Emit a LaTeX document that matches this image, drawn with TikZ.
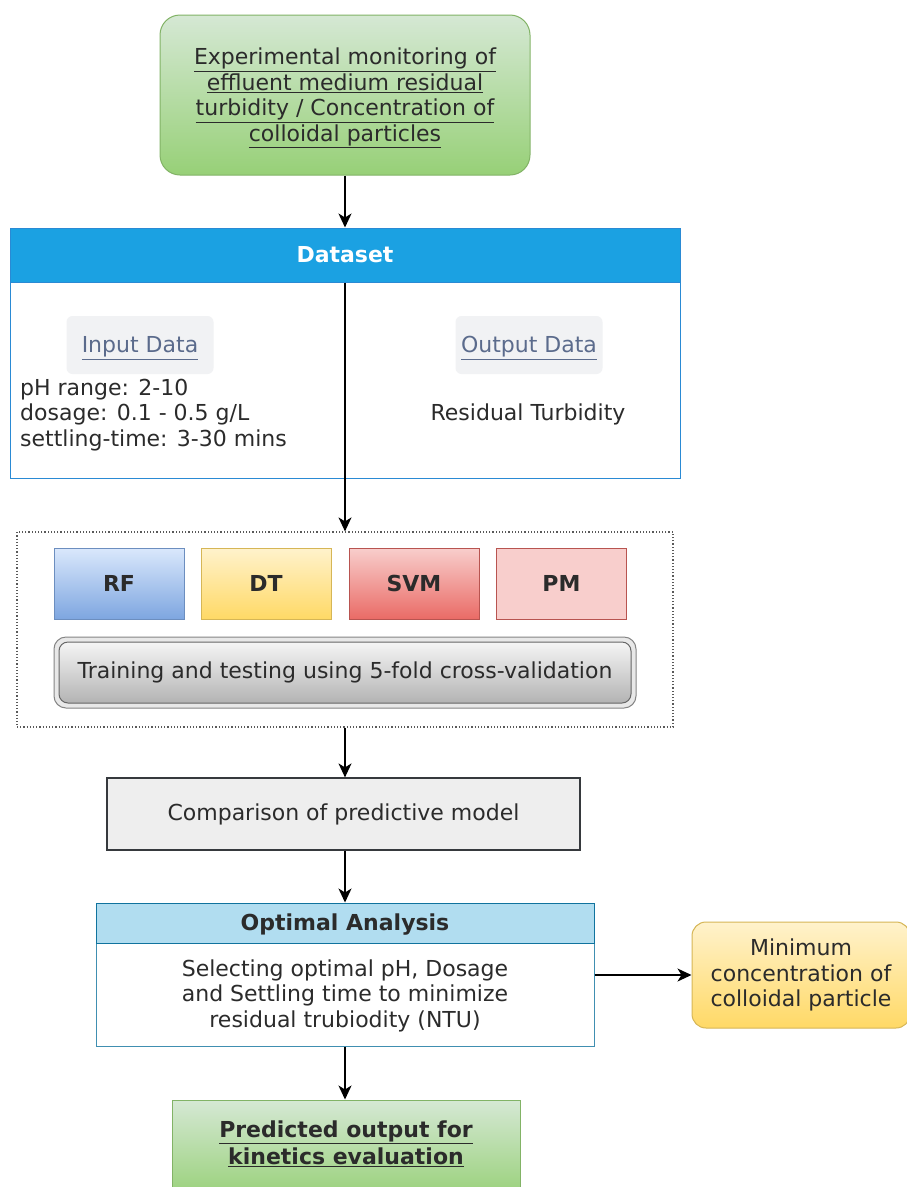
\documentclass[tikz,border=0pt]{standalone}
\usepackage{fontspec}
\setmainfont{DejaVu Sans}
\usetikzlibrary{arrows.meta,shapes.misc}
\definecolor{txt}{HTML}{2B2B2B}
\definecolor{grnT}{HTML}{D5E8D4}
\definecolor{grnB}{HTML}{97D077}
\definecolor{grnD}{HTML}{82B366}
\definecolor{dsblue}{HTML}{1BA1E2}
\definecolor{dsline}{HTML}{2A8AD4}
\definecolor{lbl}{HTML}{5B6B8C}
\definecolor{lblbg}{HTML}{F1F2F4}
\definecolor{bluT}{HTML}{DAE8FC}
\definecolor{bluB}{HTML}{7EA6E0}
\definecolor{bluD}{HTML}{6C8EBF}
\definecolor{yelT}{HTML}{FFF2CC}
\definecolor{yelB}{HTML}{FFD966}
\definecolor{yelD}{HTML}{D6B656}
\definecolor{redT}{HTML}{F8CECC}
\definecolor{redB}{HTML}{EA6B66}
\definecolor{redD}{HTML}{B85450}
\definecolor{gryT}{HTML}{F5F5F5}
\definecolor{gryB}{HTML}{B3B3B3}
\definecolor{gryD}{HTML}{666666}
\definecolor{cmpF}{HTML}{EEEEEE}
\definecolor{cmpD}{HTML}{36393D}
\definecolor{optF}{HTML}{B1DDF0}
\definecolor{optD}{HTML}{10739E}
\tikzset{
  every node/.style={font=\fontsize{22}{25.5}\selectfont, text=txt, inner sep=0pt},
  arr/.style={-{Stealth[length=14pt,width=13pt,inset=4pt]}, line width=1.5pt, black},
  modelbox/.style={rectangle, minimum width=130pt, minimum height=71pt, line width=1pt, font=\fontsize{22}{25}\selectfont\bfseries},
  lblbox/.style={rectangle, rounded corners=6pt, fill=lblbg, minimum width=147pt, minimum height=58pt, text=lbl},
}
\begin{document}
\begin{tikzpicture}[x=1pt,y=-1pt]
\clip (0,0) rectangle (907,1187);
\fill[white] (0,0) rectangle (907,1187);

% top box
\node[rectangle, rounded corners=20pt, top color=grnT, bottom color=grnB, draw=grnD, line width=1pt,
  minimum width=370pt, minimum height=160pt] (top) at (345,95) {};
\node[align=center] (toptxt) at (345,98)
  {\underline{Experimental monitoring of}\\ \underline{effluent medium residual}\\ \underline{turbidity / Concentration of}\\ \underline{colloidal particles}};

% dataset
\node[rectangle, fill=white, draw=dsline, line width=1pt, minimum width=670pt, minimum height=196pt] (dsbody) at (345,380) {};
\node[rectangle, fill=dsblue, draw=dsline, line width=1pt, minimum width=670pt, minimum height=54pt,
  text=white, font=\fontsize{22}{25}\selectfont\bfseries] (dshead) at (345,255) {Dataset};
\node[lblbox] (inlbl) at (140,345) {};
\node[text=lbl] (inlbltxt) at (140,348) {\underline{Input Data}};
\node[lblbox] (outlbl) at (529,345) {};
\node[text=lbl] (outlbltxt) at (529,348) {\underline{Output Data}};
\node[anchor=west, align=left] (intext) at (20,415) {pH range: 2-10\\dosage: 0.1 - 0.5 g/L\\settling-time: 3-30 mins};
\node (outtext) at (528,414) {Residual Turbidity};

% models
\node[rectangle, draw=black!65, dotted, line width=1.2pt, minimum width=656pt, minimum height=195pt] (models) at (345,629.5) {};
\node[modelbox, top color=bluT, bottom color=bluB, draw=bluD] (rf) at (119,583.5) {RF};
\node[modelbox, top color=yelT, bottom color=yelB, draw=yelD] (dt) at (266,583.5) {DT};
\node[modelbox, top color=redT, bottom color=redB, draw=redD] (svm) at (414,583.5) {SVM};
\node[modelbox, fill=redT, draw=redD] (pm) at (561.5,583.5) {PM};
\draw[draw=gryD!80, fill=gryT!80!gryB, line width=1pt, rounded corners=12pt] (54,637) rectangle (636,708);
\node[rectangle, rounded corners=9pt, top color=gryT, bottom color=gryB, draw=gryD, line width=1pt,
  minimum width=572pt, minimum height=61pt] (train) at (345,672.5) {Training and testing using 5-fold cross-validation};

% comparison
\node[rectangle, fill=cmpF, draw=cmpD, line width=1.2pt, minimum width=473pt, minimum height=72pt] (cmp) at (343.5,814) {Comparison of predictive model};

% optimal analysis
\node[rectangle, fill=white, draw=optD!80, line width=1pt, minimum width=498pt, minimum height=103pt] (optbody) at (345,994.5) {};
\node[align=center] (optbodytxt) at (345,995.5)
  {Selecting optimal pH, Dosage\\and Settling time to minimize\\residual trubiodity (NTU)};
\node[rectangle, fill=optF, draw=optD, line width=1pt, minimum width=498pt, minimum height=40pt] (opthead) at (345,923) {};
\node[font=\fontsize{22}{25}\selectfont\bfseries] (optheadtxt) at (345,925) {Optimal Analysis};

% minimum box
\node[rectangle, rounded corners=14pt, top color=yelT, bottom color=yelB, draw=yelD, line width=1pt,
  minimum width=218pt, minimum height=106pt, align=center] (minb) at (801,975)
  {Minimum\\concentration of\\colloidal particle};

% predicted
\node[rectangle, top color=grnT, bottom color=grnB, draw=grnD, line width=1pt, minimum width=348pt, minimum height=100pt] (pred) at (346,1150) {};
\node[align=center, font=\fontsize{22}{27}\selectfont\bfseries] (predtxt) at (346,1144)
  {\underline{Predicted output for}\\\underline{kinetics evaluation}};

% connectors
\draw[arr] (top.south) -- (dshead.north);
\draw[arr] (dshead.south) -- (models.north);
\draw[arr] (models.south) -- (cmp.north -| models.south);
\draw[arr] (cmp.south -| models.south) -- (opthead.north);
\draw[arr] (optbody.east |- minb.west) -- (minb.west);
\draw[arr] (optbody.south) -- (pred.north -| optbody.south);
\end{tikzpicture}
\end{document}
